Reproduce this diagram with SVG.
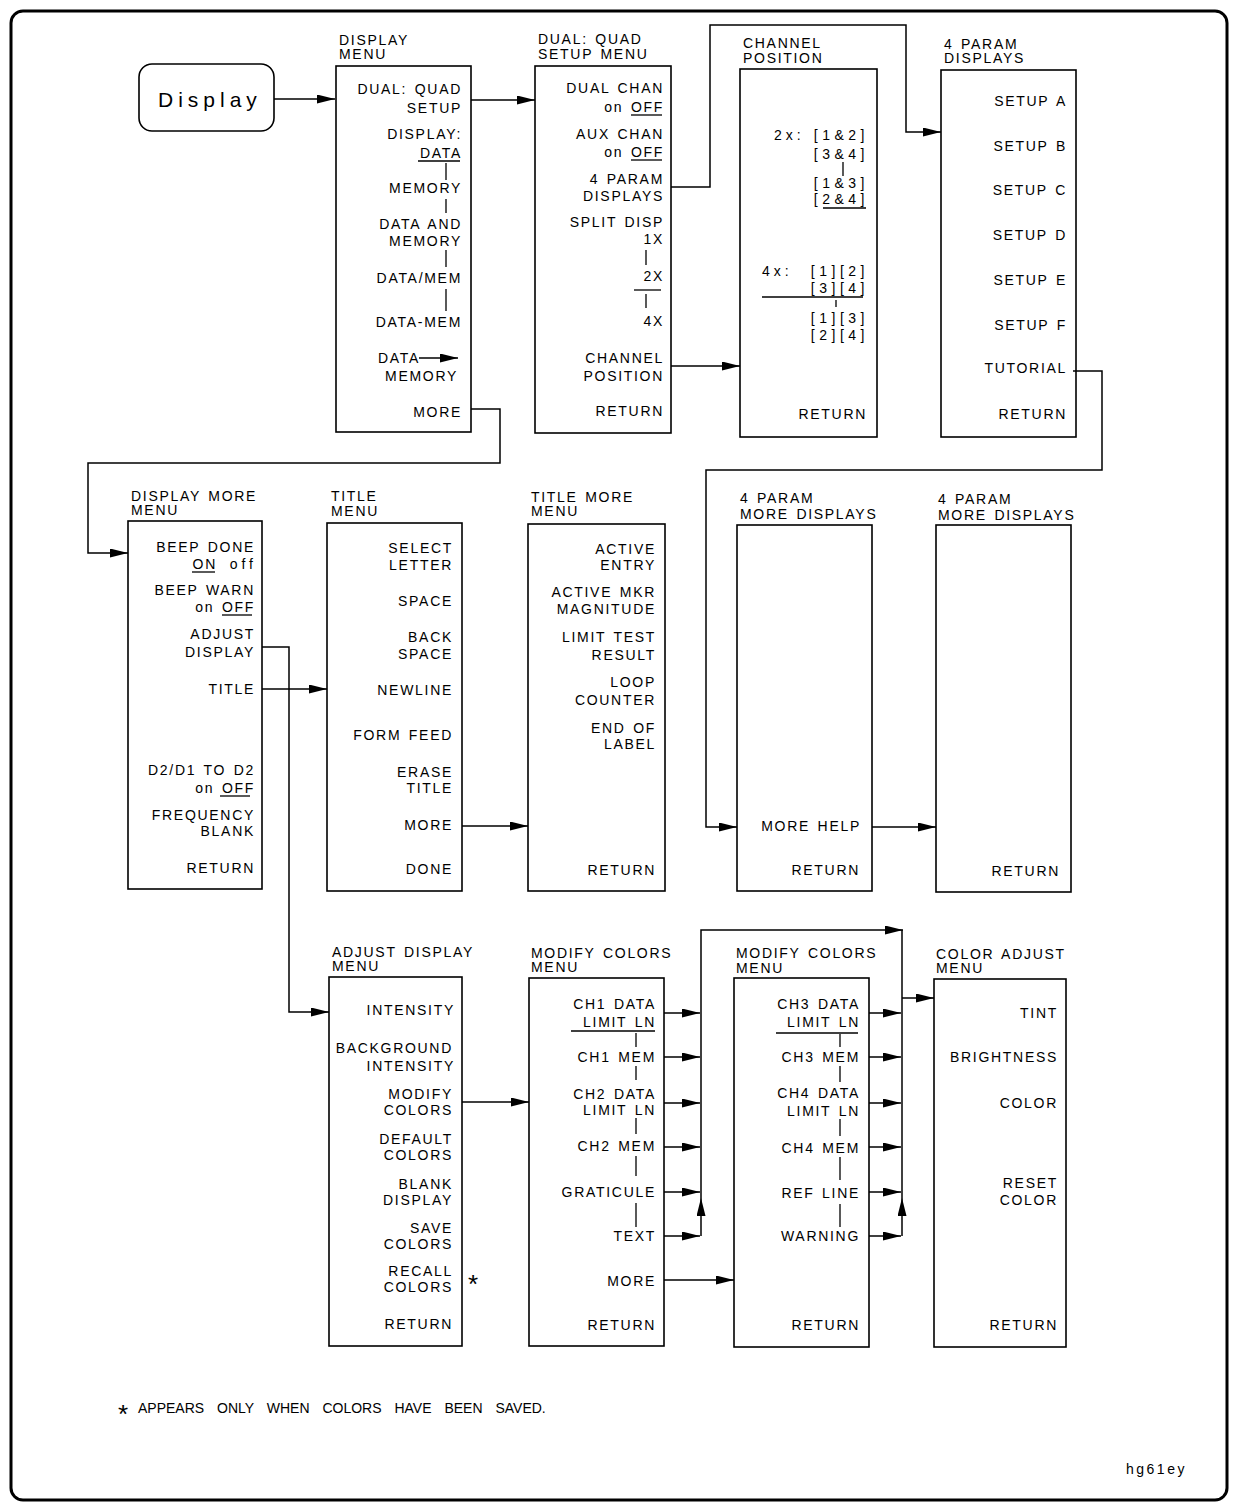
<svg xmlns="http://www.w3.org/2000/svg" width="1238" height="1506" viewBox="0 0 1238 1506">
<style>
.b{fill:#fff;stroke:#000;stroke-width:1.6}
.t{font-family:"Liberation Sans",Arial,sans-serif;font-size:14px;letter-spacing:1.7px;word-spacing:2px;text-anchor:end;fill:#000}
.h{font-family:"Liberation Sans",Arial,sans-serif;font-size:14px;letter-spacing:1.7px;word-spacing:2px;text-anchor:start;fill:#000}
.k{letter-spacing:4.5px}
.s{font-family:"Liberation Sans",Arial,sans-serif;font-size:26px;fill:#000}
.c{fill:none;stroke:#000;stroke-width:1.5}
.u{stroke:#000;stroke-width:1.3;fill:none}
</style>
<defs>
<marker id="a" viewBox="0 0 18 9" refX="18" refY="4.5" markerWidth="18" markerHeight="9" orient="auto" markerUnits="userSpaceOnUse"><path d="M0,0 L18,4.5 L0,9 z" fill="#000"/></marker>
</defs>
<rect x="0" y="0" width="1238" height="1506" fill="#fff"/>
<rect x="11" y="11" width="1216" height="1489" rx="12" fill="none" stroke="#000" stroke-width="3"/>

<g id="display-key">
<rect x="139" y="64" width="135" height="67" rx="13" class="b"/>
<text x="158" y="107" style="font-family:'Liberation Sans',Arial,sans-serif;font-size:21px;letter-spacing:5px">Display</text>
</g>

<g id="display-menu">
<text class="h" x="339" y="45">DISPLAY</text><text class="h" x="339" y="59">MENU</text>
<rect x="336" y="66" width="135" height="366" class="b"/>
<text class="t" x="462" y="94">DUAL: QUAD</text>
<text class="t" x="462" y="113">SETUP</text>
<text class="t" x="462" y="139">DISPLAY:</text>
<text class="t" x="462" y="158">DATA</text>
<line class="u" x1="418" y1="161" x2="460" y2="161"/>
<line class="u" x1="446" y1="163" x2="446" y2="180"/>
<text class="t" x="462" y="193">MEMORY</text>
<line class="u" x1="446" y1="199" x2="446" y2="213"/>
<text class="t" x="462" y="229">DATA AND</text>
<text class="t" x="462" y="246">MEMORY</text>
<line class="u" x1="446" y1="250" x2="446" y2="267"/>
<text class="t" x="462" y="283">DATA/MEM</text>
<line class="u" x1="446" y1="289" x2="446" y2="311"/>
<text class="t" x="462" y="327">DATA-MEM</text>
<text class="t" x="420" y="363">DATA</text>
<line class="u" x1="419" y1="358" x2="458" y2="358" marker-end="url(#a)"/>
<text class="t" x="458" y="381">MEMORY</text>
<text class="t" x="462" y="417">MORE</text>
</g>

<g id="dual-quad-setup-menu">
<text class="h" x="538" y="44">DUAL: QUAD</text><text class="h" x="538" y="59">SETUP MENU</text>
<rect x="535" y="66" width="136" height="367" class="b"/>
<text class="t" x="664" y="93">DUAL CHAN</text>
<text class="t" x="664" y="112">on OFF</text>
<line class="u" x1="631" y1="115" x2="662" y2="115"/>
<text class="t" x="664" y="139">AUX CHAN</text>
<text class="t" x="664" y="157">on OFF</text>
<line class="u" x1="631" y1="160" x2="662" y2="160"/>
<text class="t" x="664" y="184">4 PARAM</text>
<text class="t" x="664" y="201">DISPLAYS</text>
<text class="t" x="664" y="227">SPLIT DISP</text>
<text class="t" x="664" y="244">1X</text>
<line class="u" x1="646" y1="250" x2="646" y2="265"/>
<text class="t" x="664" y="281">2X</text>
<line class="u" x1="634" y1="290" x2="661" y2="290"/>
<line class="u" x1="646" y1="294" x2="646" y2="308"/>
<text class="t" x="664" y="326">4X</text>
<text class="t" x="664" y="363">CHANNEL</text>
<text class="t" x="664" y="381">POSITION</text>
<text class="t" x="664" y="416">RETURN</text>
</g>

<g id="channel-position">
<text class="h" x="743" y="48">CHANNEL</text><text class="h" x="743" y="63">POSITION</text>
<rect x="740" y="69" width="137" height="368" class="b"/>
<text class="h" x="774" y="140" style="letter-spacing:4px">2x:</text>
<text class="t k" x="869" y="140">[1&amp;2]</text>
<text class="t k" x="869" y="159">[3&amp;4]</text>
<line class="u" x1="843" y1="162" x2="843" y2="176"/>
<text class="t k" x="869" y="188">[1&amp;3]</text>
<text class="t k" x="869" y="204">[2&amp;4]</text>
<line class="u" x1="823" y1="208" x2="866" y2="208"/>
<text class="h" x="762" y="276" style="letter-spacing:4px">4x:</text>
<text class="t k" x="869" y="276">[1][2]</text>
<text class="t k" x="869" y="293">[3][4]</text>
<line class="u" x1="762" y1="297" x2="863" y2="297"/>
<line class="u" x1="836" y1="300" x2="836" y2="307"/>
<text class="t k" x="869" y="323">[1][3]</text>
<text class="t k" x="869" y="340">[2][4]</text>
<text class="t" x="867" y="419">RETURN</text>
</g>

<g id="four-param-displays">
<text class="h" x="944" y="49">4 PARAM</text><text class="h" x="944" y="63">DISPLAYS</text>
<rect x="941" y="70" width="135" height="367" class="b"/>
<text class="t" x="1067" y="106">SETUP A</text>
<text class="t" x="1067" y="151">SETUP B</text>
<text class="t" x="1067" y="195">SETUP C</text>
<text class="t" x="1067" y="240">SETUP D</text>
<text class="t" x="1067" y="285">SETUP E</text>
<text class="t" x="1067" y="330">SETUP F</text>
<text class="t" x="1067" y="373">TUTORIAL</text>
<text class="t" x="1067" y="419">RETURN</text>
</g>

<g id="display-more-menu">
<text class="h" x="131" y="501">DISPLAY MORE</text><text class="h" x="131" y="515">MENU</text>
<rect x="128" y="521" width="134" height="368" class="b"/>
<text class="t" x="255" y="552">BEEP DONE</text>
<text class="t" x="217" y="569">ON</text>
<line class="u" x1="192" y1="572" x2="215" y2="572"/>
<text class="t" x="257" y="569" style="letter-spacing:4px">off</text>
<text class="t" x="255" y="595">BEEP WARN</text>
<text class="t" x="255" y="612">on OFF</text>
<line class="u" x1="222" y1="615" x2="252" y2="615"/>
<text class="t" x="255" y="639">ADJUST</text>
<text class="t" x="255" y="657">DISPLAY</text>
<text class="t" x="255" y="694">TITLE</text>
<text class="t" x="255" y="775">D2/D1 TO D2</text>
<text class="t" x="255" y="793">on OFF</text>
<line class="u" x1="220" y1="796" x2="250" y2="796"/>
<text class="t" x="255" y="820">FREQUENCY</text>
<text class="t" x="255" y="836">BLANK</text>
<text class="t" x="255" y="873">RETURN</text>
</g>

<g id="title-menu">
<text class="h" x="331" y="501">TITLE</text><text class="h" x="331" y="516">MENU</text>
<rect x="327" y="523" width="135" height="368" class="b"/>
<text class="t" x="453" y="553">SELECT</text>
<text class="t" x="453" y="570">LETTER</text>
<text class="t" x="453" y="606">SPACE</text>
<text class="t" x="453" y="642">BACK</text>
<text class="t" x="453" y="659">SPACE</text>
<text class="t" x="453" y="695">NEWLINE</text>
<text class="t" x="453" y="740">FORM FEED</text>
<text class="t" x="453" y="777">ERASE</text>
<text class="t" x="453" y="793">TITLE</text>
<text class="t" x="453" y="830">MORE</text>
<text class="t" x="453" y="874">DONE</text>
</g>

<g id="title-more-menu">
<text class="h" x="531" y="502">TITLE MORE</text><text class="h" x="531" y="516">MENU</text>
<rect x="528" y="524" width="137" height="367" class="b"/>
<text class="t" x="656" y="554">ACTIVE</text>
<text class="t" x="656" y="570">ENTRY</text>
<text class="t" x="656" y="597">ACTIVE MKR</text>
<text class="t" x="656" y="614">MAGNITUDE</text>
<text class="t" x="656" y="642">LIMIT TEST</text>
<text class="t" x="656" y="660">RESULT</text>
<text class="t" x="656" y="687">LOOP</text>
<text class="t" x="656" y="705">COUNTER</text>
<text class="t" x="656" y="733">END OF</text>
<text class="t" x="656" y="749">LABEL</text>
<text class="t" x="656" y="875">RETURN</text>
</g>

<g id="four-param-more-displays-1">
<text class="h" x="740" y="503">4 PARAM</text><text class="h" x="740" y="519">MORE DISPLAYS</text>
<rect x="737" y="525" width="135" height="366" class="b"/>
<text class="t" x="861" y="831">MORE HELP</text>
<text class="t" x="860" y="875">RETURN</text>
</g>

<g id="four-param-more-displays-2">
<text class="h" x="938" y="504">4 PARAM</text><text class="h" x="938" y="520">MORE DISPLAYS</text>
<rect x="936" y="525" width="135" height="367" class="b"/>
<text class="t" x="1060" y="876">RETURN</text>
</g>

<g id="adjust-display-menu">
<text class="h" x="332" y="957">ADJUST DISPLAY</text><text class="h" x="332" y="971">MENU</text>
<rect x="329" y="977" width="133" height="369" class="b"/>
<text class="t" x="455" y="1015">INTENSITY</text>
<text class="t" x="453" y="1053">BACKGROUND</text>
<text class="t" x="455" y="1071">INTENSITY</text>
<text class="t" x="453" y="1099">MODIFY</text>
<text class="t" x="453" y="1115">COLORS</text>
<text class="t" x="453" y="1144">DEFAULT</text>
<text class="t" x="453" y="1160">COLORS</text>
<text class="t" x="453" y="1189">BLANK</text>
<text class="t" x="453" y="1205">DISPLAY</text>
<text class="t" x="453" y="1233">SAVE</text>
<text class="t" x="453" y="1249">COLORS</text>
<text class="t" x="453" y="1276">RECALL</text>
<text class="t" x="453" y="1292">COLORS</text>
<text class="t" x="453" y="1329">RETURN</text>
<text class="s" x="468" y="1293">*</text>
</g>

<g id="modify-colors-menu-1">
<text class="h" x="531" y="958">MODIFY COLORS</text><text class="h" x="531" y="972">MENU</text>
<rect x="529" y="978" width="135" height="368" class="b"/>
<text class="t" x="656" y="1009">CH1 DATA</text>
<text class="t" x="656" y="1027">LIMIT LN</text>
<line class="u" x1="571" y1="1031" x2="655" y2="1031"/>
<line class="u" x1="636" y1="1033" x2="636" y2="1047"/>
<text class="t" x="656" y="1062">CH1 MEM</text>
<line class="u" x1="636" y1="1066" x2="636" y2="1080"/>
<text class="t" x="656" y="1099">CH2 DATA</text>
<text class="t" x="656" y="1115">LIMIT LN</text>
<line class="u" x1="636" y1="1118" x2="636" y2="1134"/>
<text class="t" x="656" y="1151">CH2 MEM</text>
<line class="u" x1="636" y1="1156" x2="636" y2="1176"/>
<text class="t" x="656" y="1197">GRATICULE</text>
<line class="u" x1="636" y1="1203" x2="636" y2="1227"/>
<text class="t" x="656" y="1241">TEXT</text>
<text class="t" x="656" y="1286">MORE</text>
<text class="t" x="656" y="1330">RETURN</text>
</g>

<g id="modify-colors-menu-2">
<text class="h" x="736" y="958">MODIFY COLORS</text><text class="h" x="736" y="973">MENU</text>
<rect x="734" y="978" width="135" height="369" class="b"/>
<text class="t" x="860" y="1009">CH3 DATA</text>
<text class="t" x="860" y="1027">LIMIT LN</text>
<line class="u" x1="776" y1="1033" x2="858" y2="1033"/>
<line class="u" x1="840" y1="1034" x2="840" y2="1047"/>
<text class="t" x="860" y="1062">CH3 MEM</text>
<line class="u" x1="840" y1="1066" x2="840" y2="1082"/>
<text class="t" x="860" y="1098">CH4 DATA</text>
<text class="t" x="860" y="1116">LIMIT LN</text>
<line class="u" x1="840" y1="1119" x2="840" y2="1136"/>
<text class="t" x="860" y="1153">CH4 MEM</text>
<line class="u" x1="840" y1="1157" x2="840" y2="1180"/>
<text class="t" x="860" y="1198">REF LINE</text>
<line class="u" x1="840" y1="1204" x2="840" y2="1227"/>
<text class="t" x="860" y="1241">WARNING</text>
<text class="t" x="860" y="1330">RETURN</text>
</g>

<g id="color-adjust-menu">
<text class="h" x="936" y="959">COLOR ADJUST</text><text class="h" x="936" y="973">MENU</text>
<rect x="934" y="979" width="132" height="368" class="b"/>
<text class="t" x="1058" y="1018">TINT</text>
<text class="t" x="1058" y="1062">BRIGHTNESS</text>
<text class="t" x="1058" y="1108">COLOR</text>
<text class="t" x="1058" y="1188">RESET</text>
<text class="t" x="1058" y="1205">COLOR</text>
<text class="t" x="1058" y="1330">RETURN</text>
</g>

<g id="connectors">
<path class="c" d="M274,99 H335" marker-end="url(#a)"/>
<path class="c" d="M471,100 H535" marker-end="url(#a)"/>
<path class="c" d="M471,409 H500 V463 H88 V553 H128" marker-end="url(#a)"/>
<path class="c" d="M671,187 H710 V25 H906 V132 H941" marker-end="url(#a)"/>
<path class="c" d="M671,366 H740" marker-end="url(#a)"/>
<path class="c" d="M1073,371 H1102 V470 H706 V827 H737" marker-end="url(#a)"/>
<path class="c" d="M262,647 H289 V1012 H329" marker-end="url(#a)"/>
<path class="c" d="M262,689 H327" marker-end="url(#a)"/>
<path class="c" d="M462,826 H528" marker-end="url(#a)"/>
<path class="c" d="M872,827 H936" marker-end="url(#a)"/>
<path class="c" d="M462,1102 H529" marker-end="url(#a)"/>
<path class="c" d="M664,1013 H700" marker-end="url(#a)"/>
<path class="c" d="M664,1057 H700" marker-end="url(#a)"/>
<path class="c" d="M664,1103 H700" marker-end="url(#a)"/>
<path class="c" d="M664,1147 H700" marker-end="url(#a)"/>
<path class="c" d="M664,1192 H700" marker-end="url(#a)"/>
<path class="c" d="M664,1236 H700" marker-end="url(#a)"/>
<path class="c" d="M701,1236 V1198" marker-end="url(#a)"/>
<path class="c" d="M701,1198 V930 H903" marker-end="url(#a)"/>
<path class="c" d="M664,1280 H734" marker-end="url(#a)"/>
<path class="c" d="M869,1013 H901" marker-end="url(#a)"/>
<path class="c" d="M869,1057 H901" marker-end="url(#a)"/>
<path class="c" d="M869,1103 H901" marker-end="url(#a)"/>
<path class="c" d="M869,1147 H901" marker-end="url(#a)"/>
<path class="c" d="M869,1192 H901" marker-end="url(#a)"/>
<path class="c" d="M869,1236 H901" marker-end="url(#a)"/>
<path class="c" d="M902,1236 V1198" marker-end="url(#a)"/>
<path class="c" d="M902,1198 V930"/>
<path class="c" d="M902,998 H934" marker-end="url(#a)"/>
</g>

<g id="footnote">
<text class="s" x="118" y="1423">*</text>
<text x="138" y="1413" style="font-family:'Liberation Sans',Arial,sans-serif;font-size:14px;word-spacing:9px">APPEARS ONLY WHEN COLORS HAVE BEEN SAVED.</text>
</g>
<text x="1126" y="1474" style="font-family:'Liberation Sans',Arial,sans-serif;font-size:14px;letter-spacing:2.5px">hg61ey</text>
</svg>
